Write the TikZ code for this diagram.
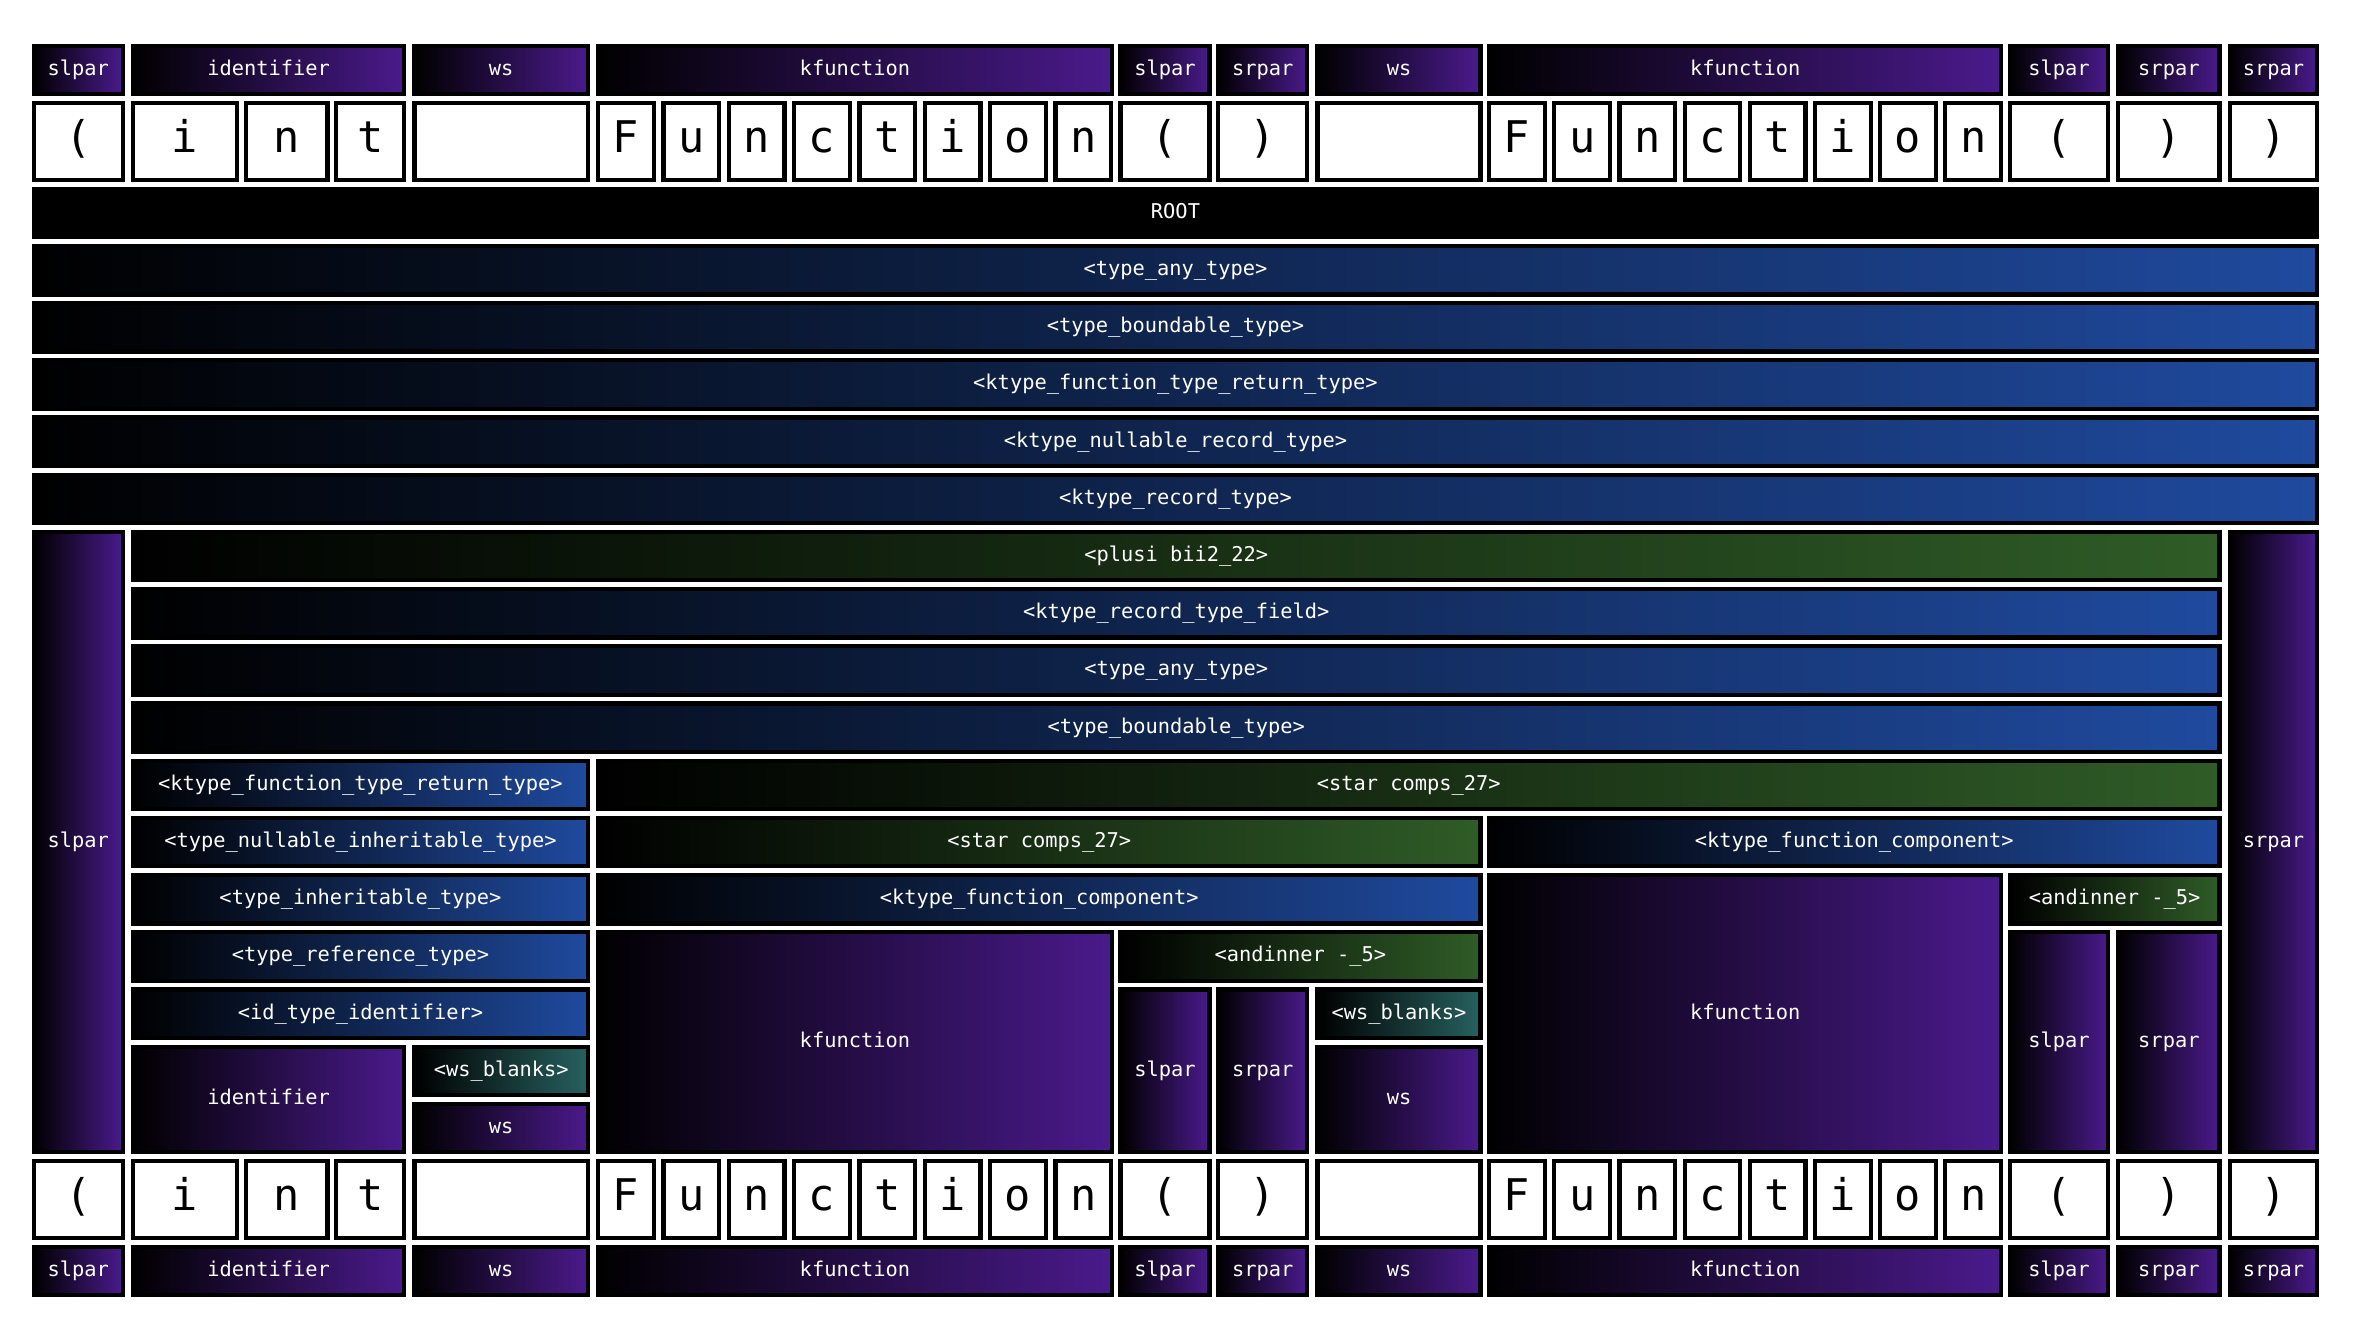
\documentclass[tikz,border=0pt]{standalone}
\usepackage{fontspec}
\newfontfamily\monof{DejaVu Sans Mono}
\definecolor{pur}{HTML}{4A1A8C}
\definecolor{blu}{HTML}{1F4A9E}
\definecolor{grn}{HTML}{2F5C27}
\definecolor{tealc}{HTML}{26615F}
\tikzset{
  cell/.style={draw=black, line width=1.6pt, inner sep=0pt, outer sep=0pt, text=white,
    font=\monof\fontsize{7.7}{9}\selectfont, text height=5.9pt, text depth=1.8pt},
  tok/.style={cell, left color=black, right color=pur},
  nt/.style={cell, left color=black, right color=blu},
  gr/.style={cell, left color=black, right color=grn},
  tl/.style={cell, left color=black, right color=tealc},
  rootbox/.style={cell, fill=black},
  chr/.style={draw=black, line width=1.6pt, fill=white, inner sep=0pt, outer sep=0pt, text=black,
    font=\monof\fontsize{16.5}{18}\selectfont, text height=12.5pt, text depth=4pt},
}
% name, x1, y1, x2, y2, style, text
\newcommand\bx[7]{\node[#6, minimum width={((#4)-(#2))*0.02cm-1.6pt}, minimum height={((#5)-(#3))*0.02cm-1.6pt}] (#1) at ({((#2)+(#4))/2},{((#3)+(#5))/2}) {#7};}
% name, x1, x2, row1, row2, style, text
\newcommand\rb[7]{\bx{#1}{#2}{124+38*(#4)}{#3}{159+38*(#5)}{#6}{#7}}
\begin{document}
\begin{tikzpicture}[x=0.02cm, y=-0.02cm]
\useasboundingbox (0,0) rectangle (1568,892);
% token rows
\foreach \nm/\ya/\yb in {t/29/64, b/827/862}{
  \bx{\nm s0}{21}{\ya}{83}{\yb}{tok}{slpar}
  \bx{\nm s1}{87}{\ya}{270}{\yb}{tok}{identifier}
  \bx{\nm s2}{274}{\ya}{392}{\yb}{tok}{ws}
  \bx{\nm s3}{396}{\ya}{740}{\yb}{tok}{kfunction}
  \bx{\nm s4}{743}{\ya}{805}{\yb}{tok}{slpar}
  \bx{\nm s5}{808}{\ya}{870}{\yb}{tok}{srpar}
  \bx{\nm s6}{874}{\ya}{985}{\yb}{tok}{ws}
  \bx{\nm s7}{988}{\ya}{1331}{\yb}{tok}{kfunction}
  \bx{\nm s8}{1334}{\ya}{1402}{\yb}{tok}{slpar}
  \bx{\nm s9}{1406}{\ya}{1476}{\yb}{tok}{srpar}
  \bx{\nm s10}{1480}{\ya}{1541}{\yb}{tok}{srpar}
}
% character rows
\foreach \nm/\ya/\yb in {t/67/121, b/770/824}{
  \bx{\nm c0}{21}{\ya}{83}{\yb}{chr}{(}
  \bx{\nm c1}{87}{\ya}{159}{\yb}{chr}{i}
  \bx{\nm c2}{162}{\ya}{219}{\yb}{chr}{n}
  \bx{\nm c3}{222}{\ya}{270}{\yb}{chr}{t}
  \bx{\nm c4}{274}{\ya}{392}{\yb}{chr}{}
  \foreach \ch [count=\i] in {F,u,n,c,t,i,o,n}{
    \bx{\nm fa\i}{396+43.4*(\i-1)}{\ya}{396+43.4*(\i-1)+39.9}{\yb}{chr}{\ch}
    \bx{\nm fb\i}{988+43.3*(\i-1)}{\ya}{988+43.3*(\i-1)+39.8}{\yb}{chr}{\ch}
  }
  \bx{\nm c5}{743}{\ya}{805}{\yb}{chr}{(}
  \bx{\nm c6}{808}{\ya}{870}{\yb}{chr}{)}
  \bx{\nm c7}{874}{\ya}{985}{\yb}{chr}{}
  \bx{\nm c8}{1334}{\ya}{1402}{\yb}{chr}{(}
  \bx{\nm c9}{1406}{\ya}{1476}{\yb}{chr}{)}
  \bx{\nm c10}{1480}{\ya}{1541}{\yb}{chr}{)}
}
% tree
\rb{root}{21}{1541}{0}{0}{rootbox}{ROOT}
\rb{r1}{21}{1541}{1}{1}{nt}{<type\_any\_type>}
\rb{r2}{21}{1541}{2}{2}{nt}{<type\_boundable\_type>}
\rb{r3}{21}{1541}{3}{3}{nt}{<ktype\_function\_type\_return\_type>}
\rb{r4}{21}{1541}{4}{4}{nt}{<ktype\_nullable\_record\_type>}
\rb{r5}{21}{1541}{5}{5}{nt}{<ktype\_record\_type>}
\rb{lpar}{21}{83}{6}{16}{tok}{slpar}
\rb{rpar}{1480}{1541}{6}{16}{tok}{srpar}
\rb{r6}{87}{1476}{6}{6}{gr}{<plusi bii2\_22>}
\rb{r7}{87}{1476}{7}{7}{nt}{<ktype\_record\_type\_field>}
\rb{r8}{87}{1476}{8}{8}{nt}{<type\_any\_type>}
\rb{r9}{87}{1476}{9}{9}{nt}{<type\_boundable\_type>}
\rb{a10}{87}{392}{10}{10}{nt}{<ktype\_function\_type\_return\_type>}
\rb{b10}{396}{1476}{10}{10}{gr}{<star comps\_27>}
\rb{a11}{87}{392}{11}{11}{nt}{<type\_nullable\_inheritable\_type>}
\rb{b11}{396}{985}{11}{11}{gr}{<star comps\_27>}
\rb{c11}{988}{1476}{11}{11}{nt}{<ktype\_function\_component>}
\rb{a12}{87}{392}{12}{12}{nt}{<type\_inheritable\_type>}
\rb{b12}{396}{985}{12}{12}{nt}{<ktype\_function\_component>}
\rb{c12}{988}{1331}{12}{16}{tok}{kfunction}
\rb{d12}{1334}{1476}{12}{12}{gr}{<andinner -\_5>}
\rb{a13}{87}{392}{13}{13}{nt}{<type\_reference\_type>}
\rb{b13}{396}{740}{13}{16}{tok}{kfunction}
\rb{c13}{743}{985}{13}{13}{gr}{<andinner -\_5>}
\rb{d13}{1334}{1402}{13}{16}{tok}{slpar}
\rb{e13}{1406}{1476}{13}{16}{tok}{srpar}
\rb{a14}{87}{392}{14}{14}{nt}{<id\_type\_identifier>}
\rb{b14}{743}{805}{14}{16}{tok}{slpar}
\rb{c14}{808}{870}{14}{16}{tok}{srpar}
\rb{d14}{874}{985}{14}{14}{tl}{<ws\_blanks>}
\rb{a15}{87}{270}{15}{16}{tok}{identifier}
\rb{b15}{274}{392}{15}{15}{tl}{<ws\_blanks>}
\rb{c15}{874}{985}{15}{16}{tok}{ws}
\rb{a16}{274}{392}{16}{16}{tok}{ws}
\end{tikzpicture}
\end{document}
